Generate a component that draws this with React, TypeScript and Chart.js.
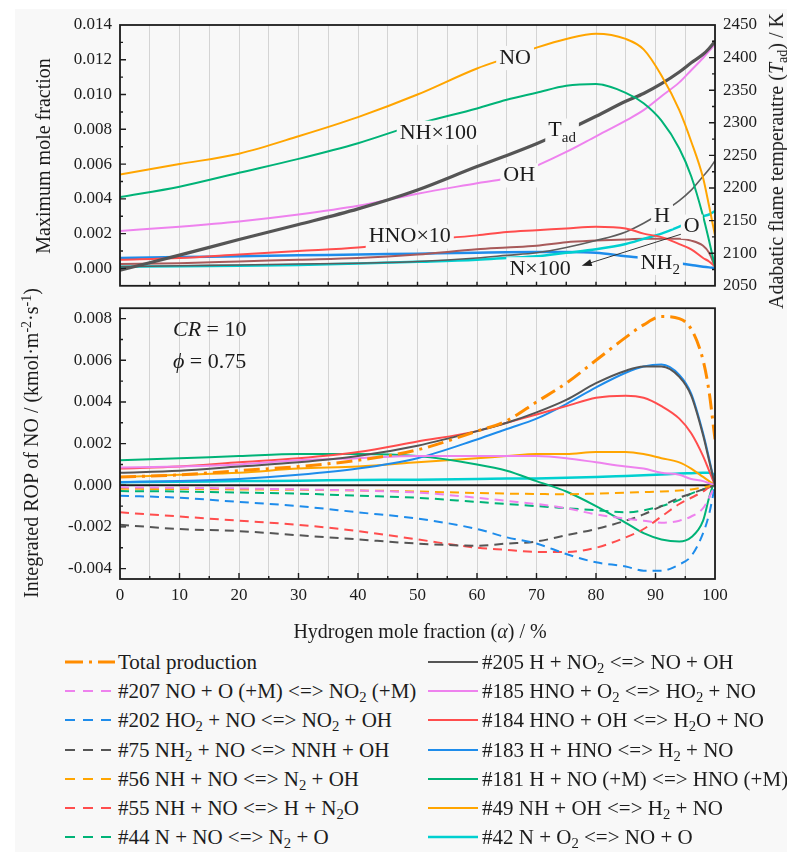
import React, { useEffect, useRef } from 'react';
import { Chart, registerables } from 'chart.js';

Chart.register(...registerables);

const FONT = '"Liberation Serif", "Times New Roman", Times, serif';
const BG = '#f8f8f8';
const INK = '#1c1c1c';
const GRID = '#d4d4d4';

const ORANGE = '#ffa500';
const TOTAL = '#ff8c00';
const GREEN = '#00b377';
const VIOLET = '#ee82ee';
const RED = '#ff4d4d';
const BLUE = '#1e8ceb';
const GRAY = '#555555';
const CYAN = '#00d0d0';
const BROWN = '#a85a5a';

// Hydrogen mole fraction (%)
const ALPHA = [0, 10, 20, 30, 40, 50, 60, 65, 70, 75, 80, 85, 88, 91, 94, 96, 98, 99, 100];

// Upper panel: maximum mole fractions (left axis) and adiabatic flame temperature (right axis)
const NO_MAX = [0.0054, 0.006, 0.0066, 0.0076, 0.0087, 0.01, 0.0115, 0.0121, 0.0127, 0.0132, 0.0135, 0.0132, 0.0126, 0.0111, 0.0091, 0.0073, 0.0052, 0.0036, 0.0019];
const NH_X100 = [0.0041, 0.0047, 0.0055, 0.0063, 0.0072, 0.0083, 0.0092, 0.0097, 0.0101, 0.0105, 0.0106, 0.0101, 0.0095, 0.0085, 0.0069, 0.0053, 0.003, 0.0016, 0.0001];
const OH_MAX = [0.00215, 0.0024, 0.0027, 0.0031, 0.0036, 0.0043, 0.0049, 0.0052, 0.0059, 0.0067, 0.0076, 0.0085, 0.0091, 0.0099, 0.0107, 0.0114, 0.0121, 0.0125, 0.0129];
const HNO_X10 = [0.0005, 0.0006, 0.0008, 0.001, 0.0012, 0.0016, 0.0019, 0.0021, 0.0022, 0.0023, 0.0024, 0.0023, 0.002, 0.0018, 0.0014, 0.0011, 0.0006, 0.0004, 0.0001];
const H_MAX = [0.0001, 0.00015, 0.0002, 0.00025, 0.0003, 0.0004, 0.0006, 0.00075, 0.0009, 0.0012, 0.0016, 0.0021, 0.0026, 0.0032, 0.0039, 0.0045, 0.0053, 0.0057, 0.0062];
const O_MAX = [0.0001, 0.00012, 0.00015, 0.0002, 0.00028, 0.00038, 0.0005, 0.0006, 0.0007, 0.0009, 0.0011, 0.0014, 0.0017, 0.002, 0.0024, 0.0027, 0.003, 0.0031, 0.0033];
const N_X100 = [0.00025, 0.0003, 0.0004, 0.0005, 0.0006, 0.0008, 0.0011, 0.0012, 0.0013, 0.0015, 0.0016, 0.00167, 0.0017, 0.0017, 0.0017, 0.0016, 0.0013, 0.0009, 0.0001];
const NH2_MAX = [0.0006, 0.00065, 0.0007, 0.00075, 0.0008, 0.00085, 0.0009, 0.00093, 0.00094, 0.00094, 0.0009, 0.0007, 0.0006, 0.00045, 0.0003, 0.0002, 0.0001, 0.00006, 0.00003];
const T_AD = [2074, 2097, 2121, 2144, 2168, 2197, 2233, 2250, 2268, 2288, 2310, 2333, 2345, 2360, 2378, 2392, 2405, 2414, 2425];

// Lower panel: integrated ROP of NO (kmol·m-2·s-1)
const TOTAL_PROD = [0.0004, 0.0005, 0.0007, 0.0009, 0.0012, 0.0017, 0.0026, 0.0031, 0.004, 0.0049, 0.006, 0.0071, 0.0077, 0.0081, 0.008, 0.0075, 0.006, 0.0045, 0.0022];
const R207 = [-0.0001, -0.00012, -0.00015, -0.0002, -0.00025, -0.00035, -0.0006, -0.00075, -0.0009, -0.0011, -0.0014, -0.0016, -0.0017, -0.0018, -0.0017, -0.0015, -0.0011, -0.0006, 0];
const R202 = [-0.0005, -0.0006, -0.0008, -0.001, -0.0013, -0.0016, -0.0021, -0.0025, -0.0028, -0.0033, -0.0037, -0.0039, -0.0041, -0.0041, -0.0038, -0.0034, -0.0023, -0.0014, 0];
const R75 = [-0.0019, -0.0021, -0.0022, -0.0024, -0.0026, -0.0028, -0.0029, -0.0028, -0.0027, -0.0024, -0.0021, -0.0017, -0.0014, -0.001, -0.0006, -0.0004, -0.0002, -0.0001, 0];
const R56 = [-0.00017, -0.00018, -0.0002, -0.00022, -0.00025, -0.0003, -0.00037, -0.0004, -0.00042, -0.00043, -0.0004, -0.00036, -0.00033, -0.0003, -0.00025, -0.0002, -0.0001, -0.00005, 0];
const R55 = [-0.0013, -0.0015, -0.0017, -0.0019, -0.0022, -0.0026, -0.003, -0.0031, -0.0032, -0.0032, -0.003, -0.0025, -0.0021, -0.0015, -0.0009, -0.0006, -0.0003, -0.0001, 0];
const R44 = [-0.00028, -0.0003, -0.00035, -0.0004, -0.0005, -0.0006, -0.0008, -0.0009, -0.001, -0.0011, -0.0012, -0.0013, -0.0012, -0.001, -0.0007, -0.0004, -0.0002, -0.0001, 0];
const R205 = [0.0006, 0.0007, 0.0009, 0.0011, 0.0014, 0.0019, 0.0026, 0.003, 0.0035, 0.0041, 0.0049, 0.0055, 0.0057, 0.0057, 0.0052, 0.0043, 0.0024, 0.0012, 0];
const R185 = [0.00085, 0.0009, 0.001, 0.0012, 0.0013, 0.0014, 0.0014, 0.0014, 0.0014, 0.0013, 0.0011, 0.0009, 0.0008, 0.0006, 0.0005, 0.0003, 0.0002, 0.0001, 0];
const R184 = [0.0008, 0.0009, 0.0011, 0.0013, 0.0016, 0.0021, 0.0026, 0.003, 0.0034, 0.0038, 0.0042, 0.0043, 0.0042, 0.0038, 0.0032, 0.0025, 0.0014, 0.0007, 0];
const R183 = [0.00015, 0.0002, 0.0003, 0.0005, 0.0008, 0.0013, 0.0022, 0.0027, 0.0032, 0.0039, 0.0047, 0.0054, 0.0057, 0.0058, 0.0053, 0.0044, 0.0025, 0.0013, 0];
const R181 = [0.0012, 0.0013, 0.0014, 0.0015, 0.0015, 0.0014, 0.001, 0.0007, 0.0002, -0.0003, -0.001, -0.0018, -0.0023, -0.0026, -0.0027, -0.0025, -0.0017, -0.0006, 0.0003];
const R49 = [0.0004, 0.0005, 0.0006, 0.0008, 0.0009, 0.0011, 0.0013, 0.0014, 0.0015, 0.0015, 0.0016, 0.0016, 0.0015, 0.0013, 0.0011, 0.0008, 0.0004, 0.0002, 0];
const R42 = [0.00015, 0.00017, 0.0002, 0.00022, 0.00025, 0.00027, 0.0003, 0.00032, 0.00033, 0.00036, 0.0004, 0.00045, 0.00048, 0.00052, 0.00056, 0.00058, 0.0006, 0.0006, 0.0005];

// Tick values
const TOP_Y_TICKS = [0, 0.002, 0.004, 0.006, 0.008, 0.01, 0.012, 0.014];
const TAD_TICKS = [2050, 2100, 2150, 2200, 2250, 2300, 2350, 2400, 2450];
const BOT_Y_TICKS = [-0.004, -0.002, 0, 0.002, 0.004, 0.006, 0.008];

type Part = { t: string; sub?: boolean; italic?: boolean };
type Note = { parts: Part[]; x: number; y: number; axis: string; align?: 'center' | 'left'; box?: boolean };

const TOP_NOTES: Note[] = [
  { parts: [{ t: 'NO' }], x: 66.4, y: 0.0121, axis: 'y', box: true },
  { parts: [{ t: 'NH×100' }], x: 53.5, y: 0.0078, axis: 'y', box: true },
  { parts: [{ t: 'T' }, { t: 'ad', sub: true }], x: 74.3, y: 2288, axis: 'yT', box: true },
  { parts: [{ t: 'OH' }], x: 67.1, y: 0.00535, axis: 'y', box: true },
  { parts: [{ t: 'HNO×10' }], x: 48.7, y: 0.00184, axis: 'y', box: true },
  { parts: [{ t: 'H' }], x: 91.1, y: 0.003, axis: 'y', box: true },
  { parts: [{ t: 'O' }], x: 96.1, y: 0.0024, axis: 'y', box: true },
  { parts: [{ t: 'NH' }, { t: '2', sub: true }], x: 90.8, y: 0.00032, axis: 'y', box: true },
  { parts: [{ t: 'N×100' }], x: 70.6, y: -0.00005, axis: 'y', box: true },
];
const TOP_ARROW = { from: [94.6, 0.002], to: [77.6, 0.00016] };

const BOT_NOTES: Note[] = [
  { parts: [{ t: 'CR', italic: true }, { t: ' = 10' }], x: 8.9, y: 0.00745, axis: 'y', align: 'left' },
  { parts: [{ t: 'ϕ', italic: true }, { t: ' = 0.75' }], x: 8.9, y: 0.0059, axis: 'y', align: 'left' },
];

const LEGEND_LEFT = [
  { color: TOTAL, dash: '18 6 3 6', width: 3, text: 'Total production' },
  { color: VIOLET, dash: '10 8', width: 2, text: '#207 NO + O (+M) <=> NO_2 (+M)' },
  { color: BLUE, dash: '10 8', width: 2, text: '#202 HO_2 + NO <=> NO_2 + OH' },
  { color: GRAY, dash: '10 8', width: 2, text: '#75 NH_2 + NO <=> NNH + OH' },
  { color: ORANGE, dash: '10 8', width: 2, text: '#56 NH + NO <=> N_2 + OH' },
  { color: RED, dash: '10 8', width: 2, text: '#55 NH + NO <=> H + N_2O' },
  { color: GREEN, dash: '10 8', width: 2, text: '#44 N + NO <=> N_2 + O' },
];
const LEGEND_RIGHT = [
  { color: GRAY, dash: '', width: 2, text: '#205 H + NO_2 <=> NO + OH' },
  { color: VIOLET, dash: '', width: 2, text: '#185 HNO + O_2 <=> HO_2 + NO' },
  { color: RED, dash: '', width: 2, text: '#184 HNO + OH <=> H_2O + NO' },
  { color: BLUE, dash: '', width: 2, text: '#183 H + HNO <=> H_2 + NO' },
  { color: GREEN, dash: '', width: 2, text: '#181 H + NO (+M) <=> HNO (+M)' },
  { color: ORANGE, dash: '', width: 2, text: '#49 NH + OH <=> H_2 + NO' },
  { color: CYAN, dash: '', width: 2.5, text: '#42 N + O_2 <=> NO + O' },
];

const pts = (ys: number[]) => ALPHA.map((a, i) => ({ x: a, y: ys[i] }));

const series = (label: string, ys: number[], color: string, extra: any = {}) => ({
  label,
  data: pts(ys),
  borderColor: color,
  backgroundColor: color,
  borderWidth: 2,
  pointRadius: 0,
  fill: false,
  cubicInterpolationMode: 'monotone',
  ...extra,
});

function drawParts(ctx: CanvasRenderingContext2D, parts: Part[], cx: number, cy: number, size: number, align: string, box: boolean) {
  const fontOf = (p: Part) => `${p.italic ? 'italic ' : ''}${p.sub ? Math.round(size * 0.68) : size}px ${FONT}`;
  const widths = parts.map((p) => {
    ctx.font = fontOf(p);
    return ctx.measureText(p.t).width;
  });
  const w = widths.reduce((s, v) => s + v, 0);
  let x = align === 'left' ? cx : cx - w / 2;
  if (box) {
    ctx.fillStyle = BG;
    ctx.fillRect(x - 3, cy - size * 0.55, w + 6, size * 1.1);
  }
  ctx.fillStyle = INK;
  ctx.textAlign = 'left';
  ctx.textBaseline = 'middle';
  parts.forEach((p, i) => {
    ctx.font = fontOf(p);
    ctx.fillText(p.t, x, cy + (p.sub ? size * 0.32 : 0));
    x += widths[i];
  });
}

function notesPlugin(notes: Note[], arrow?: { from: number[]; to: number[] }) {
  return {
    id: 'notes',
    afterDatasetsDraw(chart: any) {
      const { ctx, scales } = chart;
      ctx.save();
      if (arrow) {
        const x1 = scales.x.getPixelForValue(arrow.from[0]);
        const y1 = scales.y.getPixelForValue(arrow.from[1]);
        const x2 = scales.x.getPixelForValue(arrow.to[0]);
        const y2 = scales.y.getPixelForValue(arrow.to[1]);
        const ang = Math.atan2(y2 - y1, x2 - x1);
        ctx.strokeStyle = '#333';
        ctx.lineWidth = 1;
        ctx.beginPath();
        ctx.moveTo(x1, y1);
        ctx.lineTo(x2 - 6 * Math.cos(ang), y2 - 6 * Math.sin(ang));
        ctx.stroke();
        ctx.fillStyle = '#222';
        ctx.beginPath();
        ctx.moveTo(x2, y2);
        ctx.lineTo(x2 - 10 * Math.cos(ang) + 3.5 * Math.sin(ang), y2 - 10 * Math.sin(ang) - 3.5 * Math.cos(ang));
        ctx.lineTo(x2 - 10 * Math.cos(ang) - 3.5 * Math.sin(ang), y2 - 10 * Math.sin(ang) + 3.5 * Math.cos(ang));
        ctx.closePath();
        ctx.fill();
      }
      notes.forEach((n) => {
        const px = scales.x.getPixelForValue(n.x);
        const py = scales[n.axis].getPixelForValue(n.y);
        drawParts(ctx, n.parts, px, py, 22, n.align || 'center', !!n.box);
      });
      ctx.restore();
    },
  };
}

function framePlugin(cfg: { left: string; leftStep: number; right?: string; rightStep?: number; xMajor: number; xMinor: number; zero?: boolean }) {
  return {
    id: 'frameTicks',
    beforeDatasetsDraw(chart: any) {
      if (!cfg.zero) return;
      const { ctx, chartArea: a, scales } = chart;
      const y = scales[cfg.left].getPixelForValue(0);
      ctx.save();
      ctx.strokeStyle = INK;
      ctx.lineWidth = 2;
      ctx.beginPath();
      ctx.moveTo(a.left, y);
      ctx.lineTo(a.right, y);
      ctx.stroke();
      ctx.restore();
    },
    afterDraw(chart: any) {
      const { ctx, chartArea: a, scales } = chart;
      ctx.save();
      ctx.strokeStyle = INK;
      ctx.lineWidth = 1.4;
      ctx.beginPath();
      const ys = scales[cfg.left];
      const n0 = Math.ceil(ys.min / cfg.leftStep - 1e-6);
      const n1 = Math.floor(ys.max / cfg.leftStep + 1e-6);
      for (let k = n0; k <= n1; k++) {
        const py = ys.getPixelForValue(k * cfg.leftStep);
        if (py <= a.top + 1 || py >= a.bottom - 1) continue;
        const len = k % 2 === 0 ? 6 : 3;
        ctx.moveTo(a.left, py);
        ctx.lineTo(a.left + len, py);
      }
      if (cfg.right && cfg.rightStep) {
        const rs = scales[cfg.right];
        const m0 = Math.ceil(rs.min / cfg.rightStep - 1e-6);
        const m1 = Math.floor(rs.max / cfg.rightStep + 1e-6);
        for (let k = m0; k <= m1; k++) {
          const py = rs.getPixelForValue(k * cfg.rightStep);
          if (py <= a.top + 1 || py >= a.bottom - 1) continue;
          const len = k % 2 === 0 ? 6 : 3;
          ctx.moveTo(a.right, py);
          ctx.lineTo(a.right - len, py);
        }
      }
      const xs = scales.x;
      for (let k = 1; k < 20; k++) {
        const px = xs.getPixelForValue(k * 5);
        const len = k % 2 === 0 ? cfg.xMajor : cfg.xMinor;
        ctx.moveTo(px, a.bottom);
        ctx.lineTo(px, a.bottom - len);
      }
      ctx.stroke();
      ctx.lineWidth = 1.8;
      ctx.strokeRect(a.left, a.top, a.right - a.left, a.bottom - a.top);
      ctx.restore();
    },
  };
}

const tickFont = { family: FONT, size: 17 };

function Chem({ text }: { text: string }) {
  const bits = text.split(/_(\d)/);
  return (
    <>
      {bits.map((b, i) =>
        i % 2 === 1 ? (
          <sub key={i} style={{ fontSize: '0.7em', verticalAlign: '-0.3em', lineHeight: 0 }}>
            {b}
          </sub>
        ) : (
          <span key={i}>{b}</span>
        )
      )}
    </>
  );
}

const supStyle: React.CSSProperties = { fontSize: '0.7em', verticalAlign: '0.5em', lineHeight: 0 };
const subStyle: React.CSSProperties = { fontSize: '0.7em', verticalAlign: '-0.3em', lineHeight: 0 };

function Rotated({ cx, cy, size, children }: { cx: number; cy: number; size: number; children: React.ReactNode }) {
  return (
    <div
      style={{
        position: 'absolute',
        left: cx,
        top: cy,
        transform: 'translate(-50%, -50%) rotate(-90deg)',
        whiteSpace: 'nowrap',
        fontSize: size,
        lineHeight: 1,
      }}
    >
      {children}
    </div>
  );
}

export default function App() {
  const topRef = useRef<HTMLCanvasElement>(null);
  const botRef = useRef<HTMLCanvasElement>(null);

  useEffect(() => {
    Chart.defaults.font.family = FONT;
    const xBase = {
      type: 'linear',
      min: 0,
      max: 100,
      border: { display: false },
      grid: { color: GRID, lineWidth: 1, drawTicks: false },
    };

    const top = new Chart(topRef.current as HTMLCanvasElement, {
      type: 'line',
      data: {
        datasets: [
          series('NO', NO_MAX, ORANGE),
          series('NH×100', NH_X100, GREEN),
          series('Tad', T_AD, GRAY, { yAxisID: 'yT', borderWidth: 3.2 }),
          series('OH', OH_MAX, VIOLET),
          series('HNO×10', HNO_X10, RED),
          series('H', H_MAX, '#5c5c5c', { borderWidth: 1.6 }),
          series('O', O_MAX, CYAN, { borderWidth: 2.5 }),
          series('N×100', N_X100, BROWN),
          series('NH2', NH2_MAX, BLUE, { borderWidth: 2.5 }),
        ] as any,
      },
      options: {
        animation: false,
        responsive: false,
        maintainAspectRatio: false,
        layout: { padding: { top: 25, left: 0, right: 0, bottom: 0 } },
        plugins: { legend: { display: false }, tooltip: { enabled: false } },
        scales: {
          x: {
            ...xBase,
            ticks: { display: false, stepSize: 5 },
            afterFit: (s: any) => {
              s.height = 2;
            },
          },
          y: {
            position: 'left',
            min: -0.001,
            max: 0.014,
            border: { display: false },
            grid: { display: false, drawTicks: false },
            afterBuildTicks: (s: any) => {
              s.ticks = TOP_Y_TICKS.map((v) => ({ value: v }));
            },
            ticks: { font: tickFont, color: INK, padding: 8, callback: (v: any) => Number(v).toFixed(3) },
            afterFit: (s: any) => {
              s.width = 120;
            },
          },
          yT: {
            position: 'right',
            min: 2050,
            max: 2450,
            border: { display: false },
            grid: { display: false, drawTicks: false },
            afterBuildTicks: (s: any) => {
              s.ticks = TAD_TICKS.map((v) => ({ value: v }));
            },
            ticks: { font: tickFont, color: INK, padding: 8, callback: (v: any) => String(v) },
            afterFit: (s: any) => {
              s.width = 72;
            },
          },
        },
      } as any,
      plugins: [
        framePlugin({ left: 'y', leftStep: 0.001, right: 'yT', rightStep: 25, xMajor: 4, xMinor: 4 }),
        notesPlugin(TOP_NOTES, TOP_ARROW),
      ] as any,
    });

    const dash = [9, 6];
    const bot = new Chart(botRef.current as HTMLCanvasElement, {
      type: 'line',
      data: {
        datasets: [
          series('Total production', TOTAL_PROD, TOTAL, { borderWidth: 3, borderDash: [16, 6, 3, 6] }),
          series('#207', R207, VIOLET, { borderDash: dash }),
          series('#202', R202, BLUE, { borderDash: dash }),
          series('#75', R75, GRAY, { borderDash: dash }),
          series('#56', R56, ORANGE, { borderDash: dash }),
          series('#55', R55, RED, { borderDash: dash }),
          series('#44', R44, GREEN, { borderDash: dash }),
          series('#205', R205, GRAY),
          series('#185', R185, VIOLET),
          series('#184', R184, RED),
          series('#183', R183, BLUE),
          series('#181', R181, GREEN),
          series('#49', R49, ORANGE),
          series('#42', R42, CYAN, { borderWidth: 2.5 }),
        ] as any,
      },
      options: {
        animation: false,
        responsive: false,
        maintainAspectRatio: false,
        layout: { padding: { top: 12, left: 0, right: 72, bottom: 0 } },
        plugins: { legend: { display: false }, tooltip: { enabled: false } },
        scales: {
          x: {
            ...xBase,
            ticks: {
              stepSize: 5,
              autoSkip: false,
              maxRotation: 0,
              font: tickFont,
              color: INK,
              padding: 6,
              callback: (v: any) => (Number(v) % 10 === 0 ? String(v) : ''),
            },
            afterFit: (s: any) => {
              s.height = 61;
            },
          },
          y: {
            position: 'left',
            min: -0.0045,
            max: 0.0085,
            border: { display: false },
            grid: { display: false, drawTicks: false },
            afterBuildTicks: (s: any) => {
              s.ticks = BOT_Y_TICKS.map((v) => ({ value: v }));
            },
            ticks: { font: tickFont, color: INK, padding: 8, callback: (v: any) => Number(v).toFixed(3) },
            afterFit: (s: any) => {
              s.width = 120;
            },
          },
        },
      } as any,
      plugins: [
        framePlugin({ left: 'y', leftStep: 0.001, xMajor: 6, xMinor: 3, zero: true }),
        notesPlugin(BOT_NOTES),
      ] as any,
    });

    return () => {
      top.destroy();
      bot.destroy();
    };
  }, []);

  const legendRow = (item: any, i: number, sx: number, tx: number) => {
    const cy = 662 + i * 29.2;
    return (
      <React.Fragment key={`${sx}-${i}`}>
        <svg width={52} height={12} style={{ position: 'absolute', left: sx, top: cy - 6 }}>
          <line x1={0} y1={6} x2={50} y2={6} stroke={item.color} strokeWidth={item.width} strokeDasharray={item.dash || undefined} />
        </svg>
        <div style={{ position: 'absolute', left: tx, top: cy - 14, height: 28, lineHeight: '28px', fontSize: 21, whiteSpace: 'nowrap' }}>
          <Chem text={item.text} />
        </div>
      </React.Fragment>
    );
  };

  return (
    <div
      style={{
        position: 'absolute',
        left: 0,
        top: 0,
        width: 787,
        height: 852,
        background: '#ffffff',
        fontFamily: FONT,
        color: INK,
        overflow: 'hidden',
      }}
    >
      <div style={{ position: 'absolute', left: 15, top: 9, right: 0, bottom: 0, background: BG }} />
      <canvas ref={topRef} width={787} height={304} style={{ position: 'absolute', left: 0, top: 0 }} />
      <canvas ref={botRef} width={787} height={350} style={{ position: 'absolute', left: 0, top: 290 }} />

      <Rotated cx={43} cy={156} size={20}>
        Maximum mole fraction
      </Rotated>
      <Rotated cx={31} cy={443} size={20}>
        Integrated ROP of NO / (kmol·m<sup style={supStyle}>-2</sup>·s<sup style={supStyle}>-1</sup>)
      </Rotated>
      <Rotated cx={776} cy={161} size={20}>
        Adabatic flame temperautre (<i>T</i>
        <sub style={subStyle}>ad</sub>) / K
      </Rotated>
      <div
        style={{
          position: 'absolute',
          left: 420,
          top: 631,
          transform: 'translate(-50%, -50%)',
          whiteSpace: 'nowrap',
          fontSize: 20,
          lineHeight: 1,
        }}
      >
        Hydrogen mole fraction (<i>α</i>) / %
      </div>

      {LEGEND_LEFT.map((it, i) => legendRow(it, i, 65, 118))}
      {LEGEND_RIGHT.map((it, i) => legendRow(it, i, 428, 482))}
    </div>
  );
}
